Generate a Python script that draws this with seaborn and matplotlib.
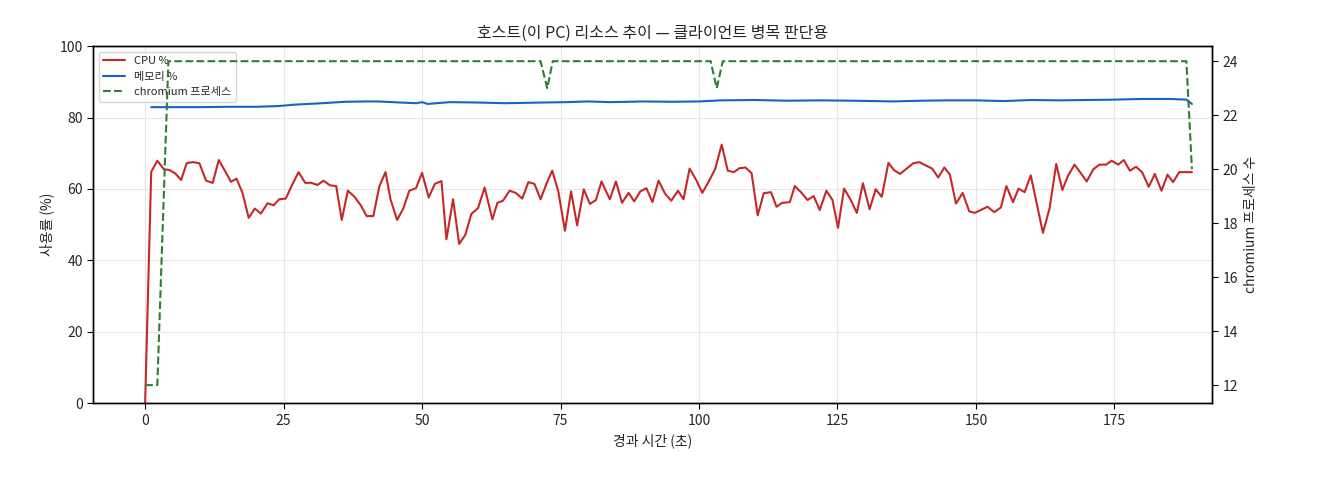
import numpy as np
import pandas as pd
import matplotlib
matplotlib.use("Agg")
import matplotlib.pyplot as plt
import seaborn as sns

sns.set_style("whitegrid")
plt.rcParams['font.family'] = ['Noto Sans CJK KR', 'DejaVu Sans']
plt.rcParams['axes.unicode_minus'] = False

# CPU 사용률 (초, %)
cpu_t = [0.0, 1.1, 2.2, 3.4, 4.4, 5.4, 6.5, 7.5, 8.6, 9.8, 11.0, 12.2, 13.3, 14.4, 15.5,
         16.5, 17.6, 18.7, 19.8, 20.9, 22.1, 23.2, 24.2, 25.4, 26.5, 27.7, 28.9, 30.0,
         31.1, 32.2, 33.4, 34.5, 35.5, 36.6, 37.8, 38.9, 40.0, 41.2, 42.3, 43.4, 44.3,
         45.5, 46.6, 47.7, 48.9, 50.0, 51.2, 52.3, 53.5, 54.4, 55.6, 56.7, 57.8, 58.9,
         60.1, 61.3, 62.7, 63.6, 64.6, 65.8, 66.9, 68.1, 69.2, 70.3, 71.4, 72.5, 73.5,
         74.6, 75.8, 76.9, 78.0, 79.2, 80.3, 81.4, 82.4, 83.9, 85.0, 86.1, 87.3, 88.3,
         89.4, 90.5, 91.6, 92.7, 93.9, 95.0, 96.2, 97.2, 98.3, 99.5, 100.6, 101.7, 102.9,
         104.1, 105.2, 106.3, 107.3, 108.4, 109.5, 110.6, 111.7, 113.0, 114.0, 115.0,
         116.4, 117.3, 118.4, 119.6, 120.7, 121.8, 123.0, 124.1, 125.1, 126.2, 127.4,
         128.5, 129.6, 130.8, 131.9, 133.0, 134.2, 135.2, 136.3, 137.5, 138.7, 139.8,
         140.9, 142.1, 143.2, 144.3, 145.3, 146.4, 147.6, 148.8, 149.8, 150.9, 152.1,
         153.3, 154.5, 155.5, 156.7, 157.7, 158.8, 159.9, 162.1, 163.3, 164.5, 165.6,
         166.6, 167.8, 168.9, 170.0, 171.2, 172.3, 173.5, 174.5, 175.7, 176.7, 177.8,
         178.9, 180.0, 181.2, 182.3, 183.5, 184.6, 185.6, 186.7, 188.0, 189.0]
cpu_v = [0.0, 64.8, 67.9, 65.5, 65.3, 64.4, 62.5, 67.2, 67.5, 67.2, 62.3, 61.7, 68.1, 65.1, 62.0,
         62.9, 58.8, 51.9, 54.5, 53.1, 56.0, 55.4, 57.1, 57.3, 61.0, 64.7, 61.7, 61.7,
         61.1, 62.3, 61.0, 60.8, 51.3, 59.5, 57.8, 55.5, 52.4, 52.4, 60.8, 64.7, 57.1,
         51.3, 54.5, 59.5, 60.2, 64.5, 57.6, 61.4, 62.2, 45.9, 57.1, 44.6, 47.1, 53.0,
         54.6, 60.4, 51.5, 56.1, 56.7, 59.5, 58.9, 57.3, 61.9, 61.4, 57.1, 61.6, 65.1,
         59.3, 48.3, 59.3, 49.8, 59.9, 55.8, 56.9, 62.1, 57.1, 62.1, 56.1, 58.9, 56.5,
         59.3, 60.2, 56.3, 62.3, 58.6, 56.7, 59.5, 57.1, 65.7, 62.5, 58.9, 61.9, 65.5,
         72.4, 65.1, 64.7, 65.8, 66.0, 64.4, 52.6, 58.8, 59.1, 55.0, 56.1,
         56.3, 60.8, 59.1, 56.9, 58.0, 54.1, 59.5, 56.9, 49.1, 60.1, 56.9,
         53.3, 61.6, 54.3, 59.9, 57.8, 67.3, 65.3, 64.2, 65.7, 67.2, 67.5,
         66.6, 65.7, 63.2, 66.0, 64.0, 55.9, 58.9, 53.7, 53.3, 54.1, 55.0,
         53.5, 54.8, 60.8, 56.3, 60.1, 59.1, 63.8, 47.7, 54.6, 67.0, 59.7,
         63.6, 66.8, 64.5, 62.1, 65.5, 66.8, 66.8, 67.9, 66.8, 68.1, 65.1,
         66.2, 64.7, 60.6, 64.2, 59.5, 64.0, 61.9, 64.7, 64.7, 64.7]

# 메모리 사용률 (초, %)
mem_t = [1.1, 5.4, 10.0, 15.0, 20.0, 24.0, 27.0, 32.0, 36.0, 40.0, 42.0, 46.0, 49.0,
         50.0, 51.0, 55.0, 60.0, 65.0, 72.0, 76.0, 80.0, 84.0, 90.0, 95.0, 100.0,
         104.0, 110.0, 116.0, 122.0, 128.0, 135.0, 140.0, 145.0, 150.0, 155.0, 160.0,
         165.0, 170.0, 175.0, 180.0, 185.0, 188.0, 189.0]
mem_v = [82.9, 82.9, 82.9, 83.0, 83.0, 83.2, 83.6, 84.0, 84.4, 84.5, 84.5, 84.2, 84.0,
         84.3, 83.8, 84.3, 84.2, 84.0, 84.2, 84.3, 84.5, 84.3, 84.5, 84.4, 84.5,
         84.8, 84.9, 84.7, 84.8, 84.7, 84.5, 84.7, 84.8, 84.8, 84.6, 84.9,
         84.8, 84.9, 85.0, 85.2, 85.2, 85.0, 83.8]

# chromium 프로세스 수
chr_t = [0.0, 2.2, 4.2, 71.4, 72.6, 73.6, 102.1, 103.2, 104.3, 188.0, 189.0]
chr_v = [12, 12, 24, 24, 23, 24, 24, 23, 24, 24, 20]

df_cpu = pd.DataFrame({'t': cpu_t, 'v': cpu_v})
df_mem = pd.DataFrame({'t': mem_t, 'v': mem_v})
df_chr = pd.DataFrame({'t': chr_t, 'v': chr_v})

fig = plt.figure(figsize=(13.2, 4.8), dpi=100)
ax = fig.add_axes([0.0705, 0.160, 0.848, 0.744])

sns.lineplot(data=df_cpu, x='t', y='v', ax=ax, color='#c62828', linewidth=1.5, label='CPU %')
sns.lineplot(data=df_mem, x='t', y='v', ax=ax, color='#1565c0', linewidth=1.5, label='메모리 %')

ax2 = ax.twinx()
sns.lineplot(data=df_chr, x='t', y='v', ax=ax2, color='#2e7d32', linewidth=1.5,
             linestyle='--', label='chromium 프로세스', legend=False)
ax2.grid(False)

ax.set_xlim(-9.4, 192.7)
ax.set_ylim(0, 100)
ax2.set_ylim(11.33, 24.56)
ax2.set_yticks([12, 14, 16, 18, 20, 22, 24])

for a in (ax, ax2):
    for s in a.spines.values():
        s.set_color('black')
        s.set_linewidth(1.0)
    a.tick_params(labelsize=10, length=4, color='black')
ax.tick_params(axis='both', which='both', left=True, bottom=True)
ax2.tick_params(axis='y', right=True)
ax.grid(True, color='#e6e6e6', linewidth=0.8)

ax.set_xlabel('경과 시간 (초)', fontsize=10)
ax.set_ylabel('사용률 (%)', fontsize=10)
ax2.set_ylabel('chromium 프로세스 수', fontsize=10)
ax.set_title('호스트(이 PC) 리소스 추이 — 클라이언트 병목 판단용', fontsize=11.5)

h1, l1 = ax.get_legend_handles_labels()
h2, l2 = ax2.get_legend_handles_labels()
ax.legend(h1 + h2, l1 + l2, loc='upper left', fontsize=8, frameon=True)

fig.savefig('out.png', dpi=100)
